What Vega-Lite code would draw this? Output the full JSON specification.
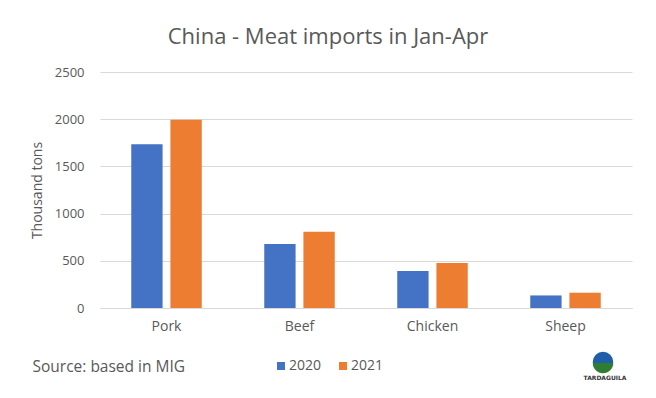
{
  "$schema": "https://vega.github.io/schema/vega-lite/v6.json",
  "autosize": {"type": "none"},
  "width": 532,
  "height": 236,
  "padding": {"left": 100, "top": 72, "right": 24, "bottom": 90},
  "background": "white",
  "title": {
    "text": "China - Meat imports in Jan-Apr",
    "anchor": "middle",
    "frame": "group",
    "dx": -38,
    "offset": 17,
    "fontSize": 22,
    "font": "Open Sans",
    "fontWeight": "normal",
    "color": "#595959"
  },
  "data": {
    "values": [
      {"meat": "Pork", "year": "2020", "value": 1735},
      {"meat": "Pork", "year": "2021", "value": 1995},
      {"meat": "Beef", "year": "2020", "value": 677},
      {"meat": "Beef", "year": "2021", "value": 807},
      {"meat": "Chicken", "year": "2020", "value": 391},
      {"meat": "Chicken", "year": "2021", "value": 476},
      {"meat": "Sheep", "year": "2020", "value": 133},
      {"meat": "Sheep", "year": "2021", "value": 162}
    ]
  },
  "layer": [
    {
      "mark": {"type": "bar"},
      "encoding": {
        "x": {
          "field": "meat",
          "type": "nominal",
          "sort": ["Pork", "Beef", "Chicken", "Sheep"],
          "scale": {"paddingInner": 0.47, "paddingOuter": 0.235},
          "axis": {
            "labelAngle": 0,
            "ticks": false,
            "labelPadding": 11,
            "labelFontSize": 14,
            "labelColor": "#595959",
            "labelFont": "Open Sans",
            "domainColor": "#d9d9d9",
            "title": "Source: based in MIG",
            "titleAnchor": "start",
            "titleX": -68,
            "titleY": 51,
            "titleFontSize": 15.5,
            "titleFontWeight": "normal",
            "titleColor": "#595959",
            "titleFont": "Open Sans"
          }
        },
        "xOffset": {
          "field": "year",
          "type": "nominal",
          "scale": {"paddingInner": 0.2, "paddingOuter": 0}
        },
        "y": {
          "field": "value",
          "type": "quantitative",
          "scale": {"domain": [0, 2500]},
          "axis": {
            "values": [0, 500, 1000, 1500, 2000, 2500],
            "format": "d",
            "ticks": false,
            "domain": false,
            "labelPadding": 16,
            "labelFontSize": 13,
            "labelColor": "#595959",
            "labelFont": "Open Sans",
            "gridColor": "#d9d9d9",
            "title": "Thousand tons",
            "titleFontSize": 14,
            "titleFontWeight": "normal",
            "titleColor": "#595959",
            "titleFont": "Open Sans",
            "titlePadding": 10
          }
        },
        "color": {
          "field": "year",
          "type": "nominal",
          "scale": {"domain": ["2020", "2021"], "range": ["#4472C4", "#ED7D31"]},
          "legend": {
            "title": null,
            "orient": "none",
            "direction": "horizontal",
            "legendX": 174,
            "legendY": 287,
            "symbolType": "square",
            "symbolSize": 64,
            "symbolStrokeWidth": 0,
            "labelFontSize": 14,
            "labelColor": "#595959",
            "labelFont": "Open Sans",
            "columnPadding": 14,
            "labelOffset": 1
          }
        }
      }
    },
    {
      "data": {"values": [{"logo": "TARDAGUILA"}]},
      "mark": {"type": "text", "fontSize": 6, "fontWeight": "bold", "font": "DejaVu Sans", "color": "#333333", "dx": -27, "dy": 70},
      "encoding": {
        "x": {"value": "width"},
        "y": {"value": "height"},
        "text": {"field": "logo"}
      }
    },
    {
      "data": {"values": [{"logo": "globe"}]},
      "mark": {"type": "point", "filled": true, "size": 420, "color": "#1f5fa8", "opacity": 1, "xOffset": -29, "yOffset": 54},
      "encoding": {
        "x": {"value": "width"},
        "y": {"value": "height"}
      }
    },
    {
      "data": {"values": [{"logo": "hill"}]},
      "mark": {"type": "point", "filled": true, "size": 420, "shape": "M-1,0.1 A1,1 0 0,0 1,0.1 Z", "color": "#2e7d32", "opacity": 1, "xOffset": -29, "yOffset": 54},
      "encoding": {
        "x": {"value": "width"},
        "y": {"value": "height"}
      }
    }
  ],
  "config": {"view": {"stroke": null}}
}
